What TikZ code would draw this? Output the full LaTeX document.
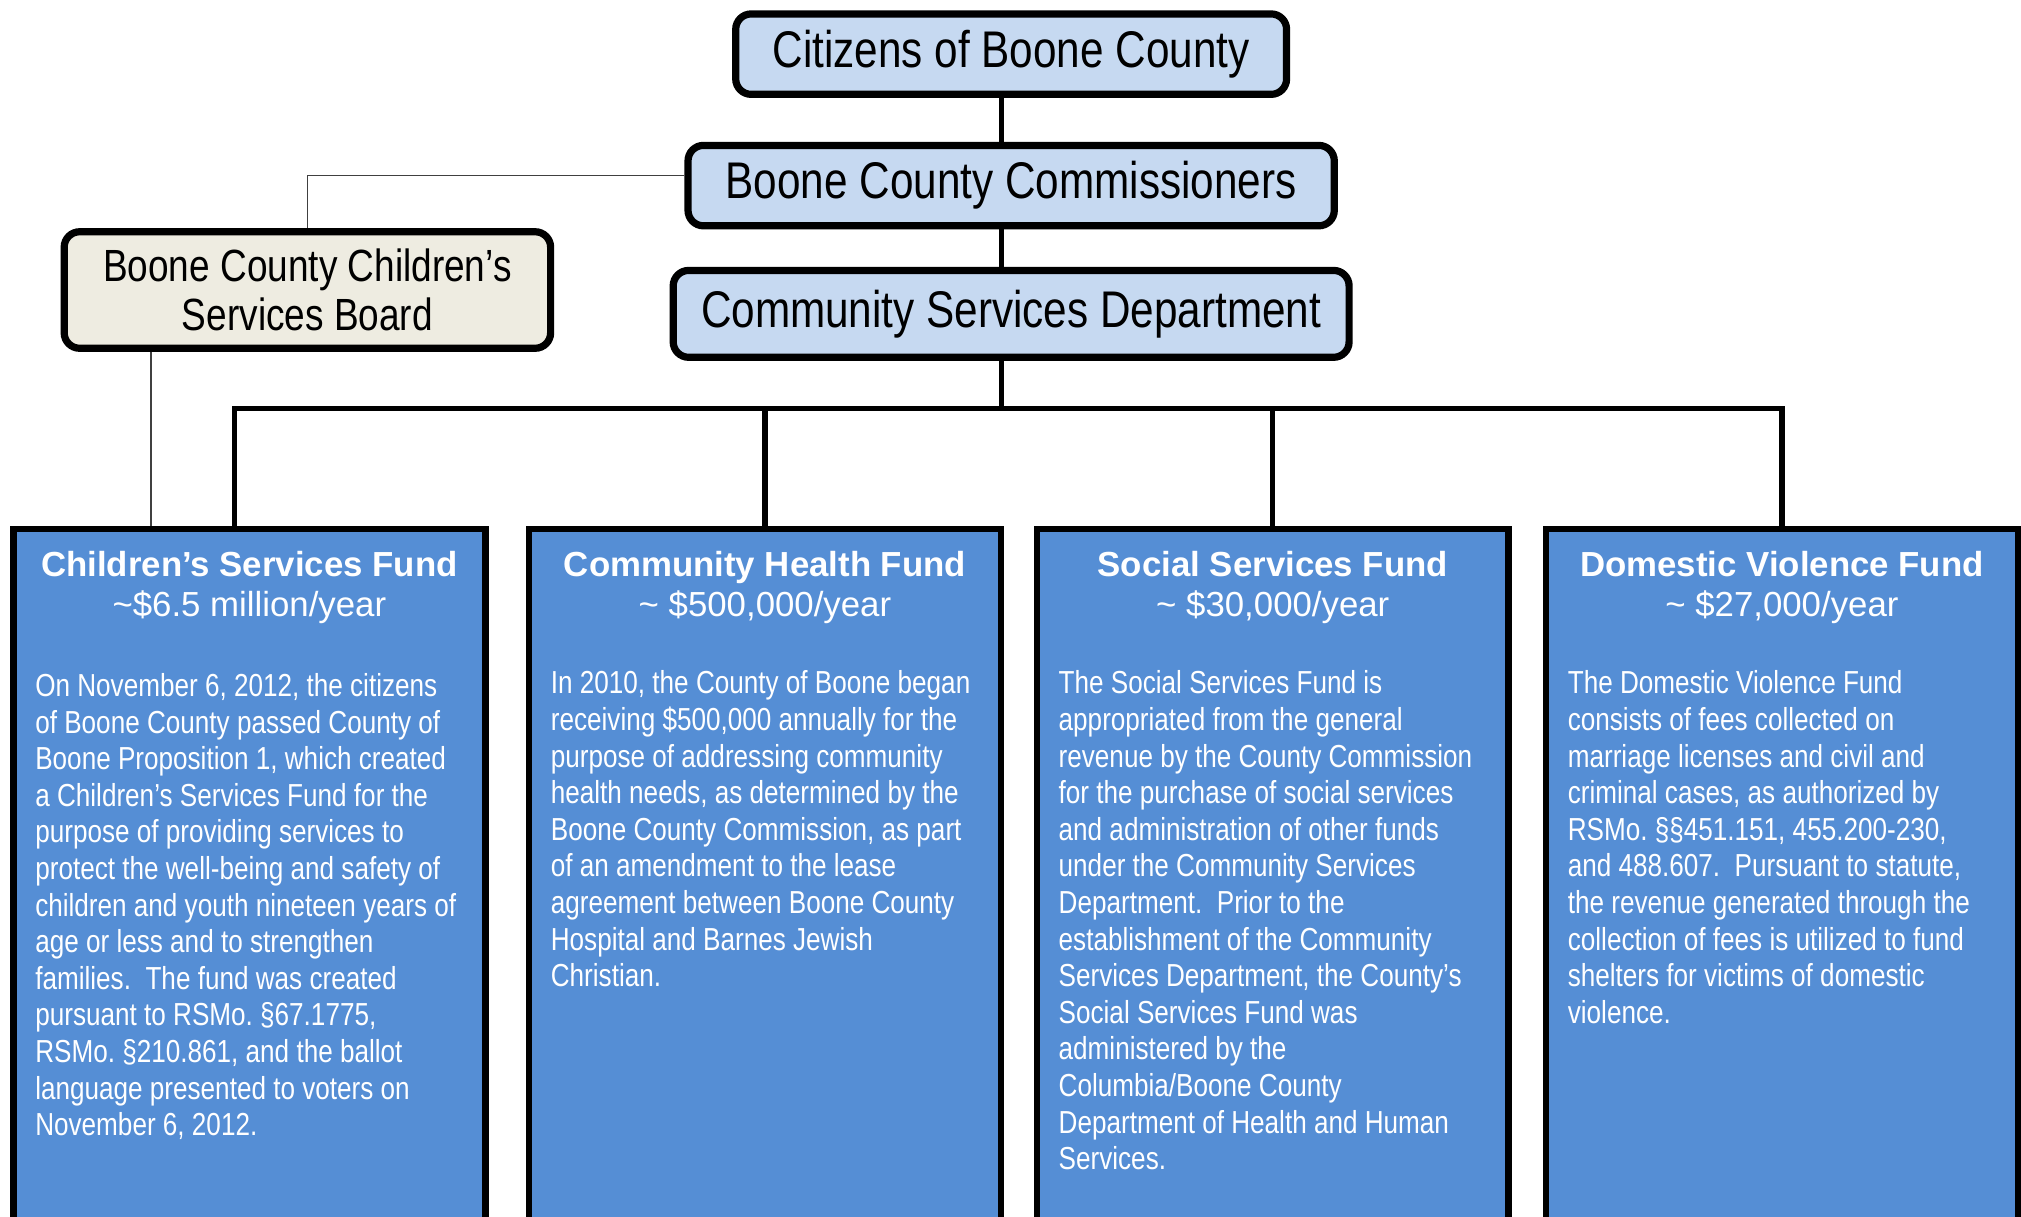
\documentclass[tikz,border=0pt]{standalone}
\usepackage{fontspec}
\setmainfont{Liberation Sans}
\newfontfamily\narrowfont[FakeStretch=0.82]{Liberation Sans}
\usetikzlibrary{positioning}
\definecolor{TopBlue}{HTML}{C6D9F1}
\definecolor{BoardTan}{HTML}{EEECE1}
\definecolor{FundBlue}{HTML}{558ED5}

\begin{document}
\begin{tikzpicture}[x=0.5pt,y=-0.5pt,
		Top/.style={rectangle,draw,line width=2.8pt,rounded corners=6pt,fill=TopBlue,inner sep=0pt,
			font=\fontsize{20pt}{24pt}\selectfont\narrowfont},
		Board/.style={Top,fill=BoardTan,align=center,font=\fontsize{17.5pt}{19pt}\selectfont\narrowfont},
		Fund/.style={rectangle,draw,line width=2.5pt,fill=FundBlue,minimum width=183pt,minimum height=300pt,anchor=north},
		Head/.style={align=center,inner sep=0pt,text=white,font=\fontsize{13.5pt}{15.5pt}\selectfont},
		Body/.style={align=left,inner sep=0pt,anchor=north west,text=white,font=\fontsize{12.35pt}{14.2pt}\selectfont\narrowfont\frenchspacing},
		Link/.style={line width=2pt},
		Thin/.style={line width=0.6pt,black!75}]
		\pgfmathsetmacro{\dx}{12}
		\path[use as bounding box,clip] (0,0) rectangle (1568,944);
		% nodes
		\node[Top,minimum width=213.7pt,minimum height=31.2pt] (Citizens) at (784.5,42) {Citizens of Boone County};
		\node[Top,minimum width=250.7pt,minimum height=31.2pt] (Comm) [below=17pt of Citizens] {Boone County Commissioners};
		\node[Top,minimum width=262.2pt,minimum height=33.7pt] (CSD) [below=14.5pt of Comm] {Community Services Department};
		\node[Board,minimum width=188.7pt,minimum height=45.2pt] (Board) at (238.5,225) {Boone County Children’s\\Services Board};
		\node[Fund] (CSF) at (193.5,408) {};
		\node[Fund] (CHF) [right=14.5pt of CSF] {};
		\node[Fund] (SSF) [right=11.5pt of CHF] {};
		\node[Fund] (DVF) [right=\dx pt of SSF] {};
		% fund texts
		\node[Head,below=9.75pt of CSF.north] (CSFhead) {{\bfseries Children’s Services Fund}\\\textasciitilde\$6.5 million/year};
		\node[Head,below=9.75pt of CHF.north] (CHFhead) {{\bfseries Community Health Fund}\\\textasciitilde{} \$500,000/year};
		\node[Head,below=9.75pt of SSF.north] (SSFhead) {{\bfseries Social Services Fund}\\\textasciitilde{} \$30,000/year};
		\node[Head,below=9.75pt of DVF.north] (DVFhead) {{\bfseries Domestic Violence Fund}\\\textasciitilde{} \$27,000/year};
		\node[Body] (CSFbody) at ([xshift=9.5pt,yshift=-57pt]CSF.north west) {On November 6, 2012, the citizens\\
			of Boone County passed County of\\
			Boone Proposition 1, which created\\
			a Children’s Services Fund for the\\
			purpose of providing services to\\
			protect the well-being and safety of\\
			children and youth nineteen years of\\
			age or less and to strengthen\\
			families.~ The fund was created\\
			pursuant to RSMo. §67.1775,\\
			RSMo. §210.861, and the ballot\\
			language presented to voters on\\
			November 6, 2012.};
		\node[Body] (CHFbody) at ([xshift=9.5pt,yshift=-56pt]CHF.north west) {In 2010, the County of Boone began\\
			receiving \$500,000 annually for the\\
			purpose of addressing community\\
			health needs, as determined by the\\
			Boone County Commission, as part\\
			of an amendment to the lease\\
			agreement between Boone County\\
			Hospital and Barnes Jewish\\
			Christian.};
		\node[Body] (SSFbody) at ([xshift=9.5pt,yshift=-56pt]SSF.north west) {The Social Services Fund is\\
			appropriated from the general\\
			revenue by the County Commission\\
			for the purchase of social services\\
			and administration of other funds\\
			under the Community Services\\
			Department.~ Prior to the\\
			establishment of the Community\\
			Services Department, the County’s\\
			Social Services Fund was\\
			administered by the\\
			Columbia/Boone County\\
			Department of Health and Human\\
			Services.};
		\node[Body] (DVFbody) at ([xshift=9.5pt,yshift=-56pt]DVF.north west) {The Domestic Violence Fund\\
			consists of fees collected on\\
			marriage licenses and civil and\\
			criminal cases, as authorized by\\
			RSMo. §§451.151, 455.200-230,\\
			and 488.607.~ Pursuant to statute,\\
			the revenue generated through the\\
			collection of fees is utilized to fund\\
			shelters for victims of domestic\\
			violence.};
		% connections
		\coordinate (Bar) at (777,317);
		\coordinate (Side) at (117,0);
		\draw[Link] (Citizens.south -| Bar) -- (Comm.north -| Bar);
		\draw[Link] (Comm.south -| Bar) -- (CSD.north -| Bar);
		\draw[Link] (CSD.south -| Bar) -- (Bar);
		\draw[Link] ([xshift=-5.75pt]CSF.north) |- (DVF.north |- Bar) -- (DVF.north);
		\draw[Link] (CHF.north) -- (CHF.north |- Bar);
		\draw[Link] (SSF.north) -- (SSF.north |- Bar);
		\draw[Thin] ([yshift=4pt]Comm.west) -| (Board.north);
		\draw[Thin] (Board.south -| Side) -- (CSF.north -| Side);
	\end{tikzpicture}
\end{document}
